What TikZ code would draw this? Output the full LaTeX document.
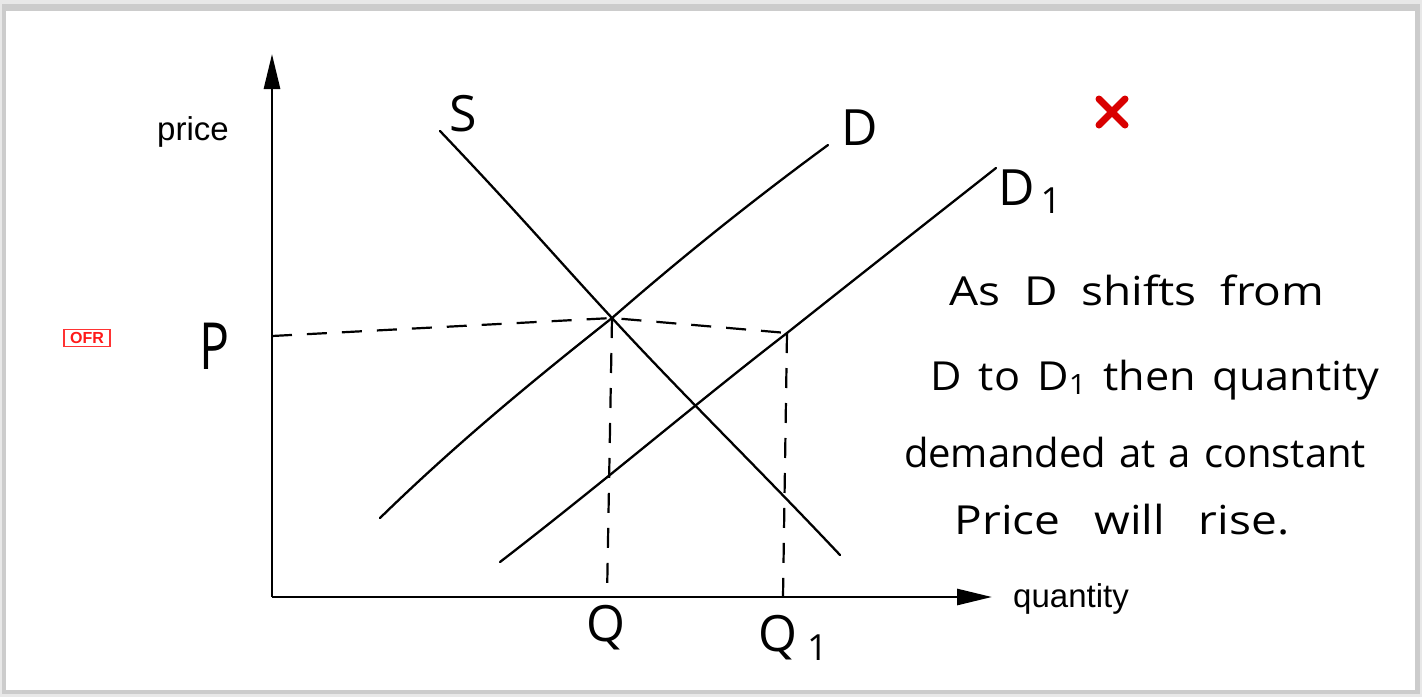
\documentclass[tikz,border=0pt]{standalone}
\usepackage{fontspec}
\setmainfont{Liberation Sans}
\newfontfamily\hand{Open Sans}
\usetikzlibrary{arrows.meta,calc}
\newcommand{\handline}[3]{\scalebox{#1}[1]{\makebox[#2][s]{#3}}}
\begin{document}
\begin{tikzpicture}[x=1pt,y=-1pt,
  axis/.style={line width=2.8pt,-{Triangle[length=35pt,width=16pt]}},
  curve/.style={line width=2.3pt,line cap=round},
  guide/.style={line width=2.2pt,dash pattern=on 20pt off 15pt},
  axlabel/.style={font=\fontsize{33}{33}\selectfont,inner sep=0pt},
  handlbl/.style={font=\hand\fontsize{50}{50}\selectfont,inner sep=0pt},
  handtxt/.style={font=\hand\fontsize{40}{40}\selectfont,inner sep=0pt}]
% frame with shadow
\fill[gray!18] (0,0) rectangle (1422,697);
\fill[gray!40] (2,4) rectangle (1420,694);
\fill[white] (6,11) rectangle (1415,690);
\useasboundingbox (0,0) rectangle (1422,697);
% axes
\coordinate (O) at (272,597);
\coordinate (ytop) at (272,54);
\coordinate (xend) at (992,597);
\draw[axis] (O) -- (ytop);
\draw[axis] (O) -- (xend);
\node[axlabel,anchor=base] (price) at (193,140) {price};
\node[axlabel,anchor=base] (quantity) at (1071,607) {quantity};
% curve points
\coordinate (s0) at (440,131);
\coordinate (e1) at (612,318);
\coordinate (e2) at (787,333);
\coordinate (s1) at (840,555);
\coordinate (d0) at (380,518);
\coordinate (d1) at (828,145);
\coordinate (f0) at (500,562);
\coordinate (f1) at (996,168);
% supply
\draw[curve] (s0) .. controls (520,215) and (560,262) .. (e1) .. controls (680,392) and (760,470) .. (s1);
% demand
\draw[curve] (d0) .. controls (460,440) and (540,375) .. (e1) .. controls (690,250) and (760,195) .. (d1);
\draw[curve] (f0) .. controls (600,485) and (700,400) .. (e2) .. controls (860,275) and (930,220) .. (f1);
% guides
\coordinate (pl) at (272,336);
\coordinate (ql) at (607,597);
\coordinate (q1l) at (783,597);
\draw[guide] (pl) -- (e1) -- (e2);
\draw[guide] (e1) -- (ql);
\draw[guide] (e2) -- (q1l);
% labels
\node[handlbl] (S) at (463,114) {S};
\node[handlbl] (D) at (860,128) {D};
\node[handlbl,anchor=west] (D1) at (998,192) {D\hspace{6pt}\raisebox{-0.3ex}{\fontsize{36}{36}\selectfont 1}};
\node[handlbl,yscale=1.3] (P) at (215,346) {P};
\node[handlbl] (Q) at (606,628) {Q};
\node[handlbl,anchor=west] (Q1) at (758,638) {Q\hspace{10pt}\raisebox{-0.35ex}{\fontsize{36}{36}\selectfont 1}};
% explanation
\node[handtxt] (t1) at (1137,290) {\handline{1.15}{326pt}{As D shifts from}};
\node[handtxt] (t2) at (1155,380) {\handline{1.08}{416pt}{D to D\raisebox{-0.2ex}{\fontsize{28}{28}\selectfont 1} then quantity}};
\node[handtxt] (t3) at (1135,452) {\handline{1.0}{462pt}{demanded at a constant}};
\node[handtxt] (t4) at (1122,520) {\handline{1.15}{291pt}{Price will rise.}};
% red marks
\coordinate (xc) at (1112,112);
\draw[red!85!black,line width=7pt,line cap=round] ($(xc)+(-13,-13)$) -- ($(xc)+(13,13)$);
\draw[red!85!black,line width=7pt,line cap=round] ($(xc)+(-13,13)$) -- ($(xc)+(13,-13)$);
\node[draw=red!80,line width=1.4pt,text=red!90,font=\bfseries\fontsize{16}{16}\selectfont,inner sep=0pt,minimum width=46pt,minimum height=17pt] (ofr) at (87,338) {OFR};
\end{tikzpicture}
\end{document}
